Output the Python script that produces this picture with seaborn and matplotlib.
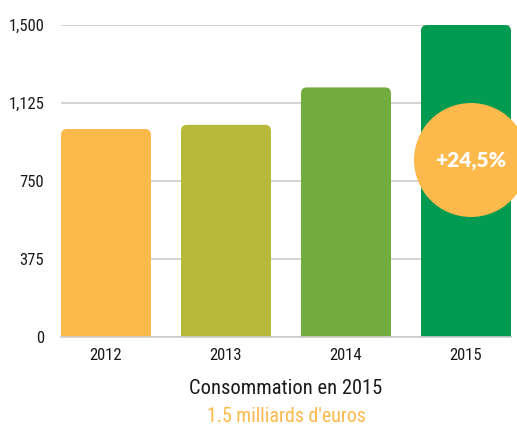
"""Consommation 2012-2015 bar chart with rounded bar tops."""

import matplotlib

matplotlib.use("Agg")
import matplotlib.pyplot as plt  # noqa: E402
import seaborn as sns  # noqa: E402
import pandas as pd  # noqa: E402
from matplotlib import font_manager  # noqa: E402
from matplotlib.patches import FancyBboxPatch, Ellipse  # noqa: E402
from matplotlib.ticker import FuncFormatter  # noqa: E402

years = ["2012", "2013", "2014", "2015"]
values = [1000, 1020, 1200, 1500]
bar_colors = ["#FDB94B", "#B8B83A", "#72AC3E", "#009A50"]
y_ticks = [0, 375, 750, 1125, 1500]
badge_text = "+24,5%"
title = "Consommation en 2015"
subtitle = "1.5 milliards d'euros"


def first_font(candidates):
    names = {f.name for f in font_manager.fontManager.ttflist}
    for name in candidates:
        if name in names:
            return name
    return "DejaVu Sans"


narrow = first_font(["Liberation Sans Narrow", "Roboto Condensed", "Open Sans Condensed", "Roboto"])
is_narrow = narrow != "Roboto"

sns.set_theme(style="white")
plt.rcParams["font.family"] = [narrow, "DejaVu Sans"]

df = pd.DataFrame({"year": years, "value": values})

fig = plt.figure(figsize=(5.17, 4.28), dpi=100)
ax = fig.add_axes([61 / 517, (428 - 337) / 428, 450 / 517, 312 / 428])

sns.barplot(data=df, x="year", y="value", hue="year", palette=bar_colors,
            width=0.75, legend=False, ax=ax, saturation=1)

# swap plain bars for rounded-top ones
x_px_per_unit = 120.0
y_px_per_unit = 312 / 1500
aspect = x_px_per_unit / y_px_per_unit
for patch in list(ax.patches):
    x0, w, h = patch.get_x(), patch.get_width(), patch.get_height()
    fc = patch.get_facecolor()
    patch.remove()
    ax.add_patch(FancyBboxPatch(
        (x0, -60), w, h + 60,
        boxstyle="round,pad=0,rounding_size=0.05",
        mutation_aspect=aspect, facecolor=fc, edgecolor="none", zorder=2,
    ))

tick_size = 12 if is_narrow else 11

ax.set_xlim(-0.375, 3.375)
ax.set_ylim(0, 1500)
ax.set_yticks(y_ticks)
ax.yaxis.set_major_formatter(FuncFormatter(lambda v, _: f"{int(v):,}"))
ax.grid(axis="y", color="#cccccc", linewidth=1.2, zorder=0)
ax.set_axisbelow(True)
sns.despine(ax=ax, left=True, top=True, right=True)
ax.spines["bottom"].set_color("#cccccc")
ax.spines["bottom"].set_linewidth(1.2)
ax.tick_params(axis="both", length=0, labelsize=tick_size, colors="#1a1a1a")
ax.tick_params(axis="y", pad=12)
ax.tick_params(axis="x", pad=8)
ax.set_xlabel("")
ax.set_ylabel("")

# badge circle on the 2015 bar
bx = 3.0 + 5 / x_px_per_unit
by = 1500 - (160 - 25) / y_px_per_unit
badge = Ellipse((bx, by), width=2 * 57 / x_px_per_unit, height=2 * 57 / y_px_per_unit,
                facecolor="#FDB94B", edgecolor="none", zorder=3, clip_on=False)
ax.add_patch(badge)
ax.text(bx, by, badge_text, ha="center", va="center", color="white",
        fontsize=15, fontweight="heavy", family=["Lato", "DejaVu Sans"], zorder=4)

fig.text(286 / 517, 1 - 389 / 428, title, ha="center", va="center",
         fontsize=14.8 if is_narrow else 13, color="#1a1a1a")
fig.text(286 / 517, 1 - 417 / 428, subtitle, ha="center", va="center",
         fontsize=14.3 if is_narrow else 12.5, color="#FDB94B")

fig.savefig("out.png", dpi=100)
